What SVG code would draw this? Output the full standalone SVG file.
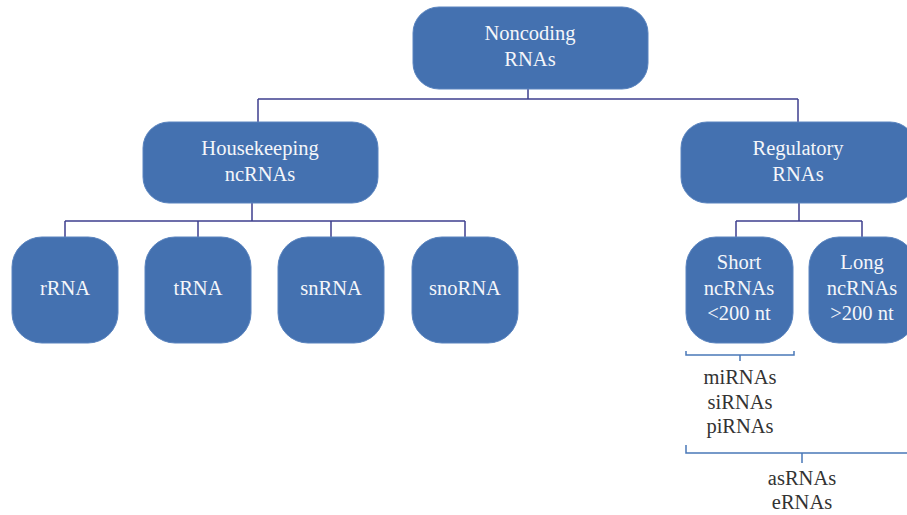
<svg xmlns="http://www.w3.org/2000/svg" width="907" height="515" viewBox="0 0 907 515">
<style>
.box{fill:#4471b0;stroke:#5a84bf;stroke-width:1}
.bt{font-family:"Liberation Serif",serif;font-size:20.5px;fill:#f4f6fa;text-anchor:middle}
.lt{font-family:"Liberation Serif",serif;font-size:20.5px;fill:#333333;text-anchor:middle}
.con{fill:none;stroke:#3e3f8e;stroke-width:1.5}
.br{fill:none;stroke:#4a78b8;stroke-width:1.5}
</style>
<rect width="907" height="515" fill="#ffffff"/>
<g id="connectors">
<path class="con" d="M528 89V99M258 99H798M258 99V122M798 99V122"/>
<path class="con" d="M252 203V221M65 221H465M65 221V237M198 221V237M331 221V237M465 221V237"/>
<path class="con" d="M799 203V221M736 221H862M736 221V237M862 221V237"/>
<path class="br" d="M686 351V355H794V351M740 355V361"/>
<path class="br" d="M686 445V453H907M802 453V463"/>
</g>
<g id="noncoding"><rect class="box" x="413" y="7" width="235" height="82" rx="26"/><text class="bt" x="530" y="40">Noncoding</text><text class="bt" x="530" y="66">RNAs</text></g>
<g id="housekeeping"><rect class="box" x="143" y="122" width="235" height="81" rx="26"/><text class="bt" x="260" y="155">Housekeeping</text><text class="bt" x="260" y="181">ncRNAs</text></g>
<g id="regulatory"><rect class="box" x="681" y="122" width="235" height="81" rx="26"/><text class="bt" x="798" y="155">Regulatory</text><text class="bt" x="798" y="181">RNAs</text></g>
<g id="rrna"><rect class="box" x="12" y="237" width="106" height="106" rx="30"/><text class="bt" x="65" y="295">rRNA</text></g>
<g id="trna"><rect class="box" x="145" y="237" width="106" height="106" rx="30"/><text class="bt" x="198" y="295">tRNA</text></g>
<g id="snrna"><rect class="box" x="278" y="237" width="106" height="106" rx="30"/><text class="bt" x="331" y="295">snRNA</text></g>
<g id="snorna"><rect class="box" x="412" y="237" width="106" height="106" rx="30"/><text class="bt" x="465" y="295">snoRNA</text></g>
<g id="short"><rect class="box" x="686" y="237" width="107" height="106" rx="30"/><text class="bt" x="739" y="269">Short</text><text class="bt" x="739" y="295">ncRNAs</text><text class="bt" x="739" y="320">&lt;200 nt</text></g>
<g id="long"><rect class="box" x="809" y="237" width="107" height="106" rx="30"/><text class="bt" x="862" y="269">Long</text><text class="bt" x="862" y="295">ncRNAs</text><text class="bt" x="862" y="320">&gt;200 nt</text></g>
<g id="short-list"><text class="lt" x="740" y="384">miRNAs</text><text class="lt" x="740" y="409">siRNAs</text><text class="lt" x="740" y="433">piRNAs</text></g>
<g id="long-list"><text class="lt" x="802" y="485">asRNAs</text><text class="lt" x="802" y="509">eRNAs</text></g>
</svg>
